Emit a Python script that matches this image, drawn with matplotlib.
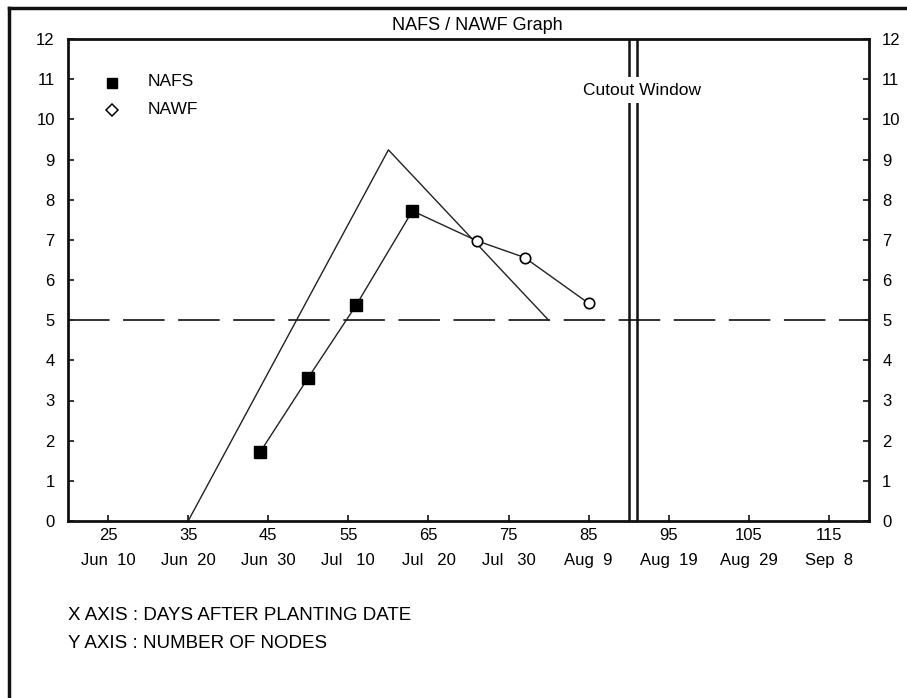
import matplotlib
matplotlib.use("Agg")
import matplotlib.pyplot as plt
from matplotlib.lines import Line2D

# ---- data ----
target_x = [35, 60, 80]
target_y = [0, 9.24, 5.0]

nafs_x = [44, 50, 56, 63]
nafs_y = [1.72, 3.57, 5.38, 7.72]

nawf_x = [71, 77, 85]
nawf_y = [6.98, 6.56, 5.42]

threshold = 5
cutout_x = [90, 91]

day_ticks = [25, 35, 45, 55, 65, 75, 85, 95, 105, 115]
date_labels = ["Jun  10", "Jun  20", "Jun  30", "Jul   10", "Jul   20",
               "Jul   30", "Aug  9", "Aug  19", "Aug  29", "Sep  8"]
y_ticks = list(range(0, 13))

plt.rcParams['font.family'] = ['Liberation Sans', 'DejaVu Sans']

W, H = 907, 698
fig = plt.figure(figsize=(W / 100, H / 100), dpi=100)
fig.patch.set_facecolor('white')

FS_TICK = 12
FS_TEXT = 12.5

# axes position in pixels
L, R, T, B = 68, 869, 39, 521
ax = fig.add_axes([L / W, 1 - B / H, (R - L) / W, (B - T) / H])
ax.set_xlim(20, 120)
ax.set_ylim(0, 12)

for s in ax.spines.values():
    s.set_linewidth(2)
    s.set_color('#111111')

# threshold dashed line
ax.axhline(threshold, color='#222222', lw=1.3, dashes=(23, 7.5))

# target line
ax.plot(target_x, target_y, color='#222222', lw=1)

# combined NAFS/NAWF line
ax.plot(nafs_x + nawf_x, nafs_y + nawf_y, color='#222222', lw=1)
ax.plot(nafs_x, nafs_y, ls='none', marker='s', ms=8.5, mfc='black', mec='black')
ax.plot(nawf_x, nawf_y, ls='none', marker='o', ms=7.5, mfc='white', mec='black', mew=1.2)

# cutout window lines
for cx in cutout_x:
    ax.axvline(cx, color='#111111', lw=1.8)
ax.text(91.6, 10.73, "Cutout Window", ha='center', va='center', fontsize=FS_TEXT,
        bbox=dict(facecolor='white', edgecolor='none', pad=4))

# legend (manual)
ax.plot([25.5], [10.9], ls='none', marker='s', ms=7.5, mfc='black', mec='black')
ax.text(30.0, 10.93, "NAFS", ha='left', va='center', fontsize=FS_TEXT)
ax.plot([25.5], [10.22], ls='none', marker='D', ms=6, mfc='white', mec='black', mew=1.1)
ax.text(30.0, 10.25, "NAWF", ha='left', va='center', fontsize=FS_TEXT)

# ticks
ax.set_xticks(day_ticks)
ax.set_xticklabels([f"{d}\n{lab}" for d, lab in zip(day_ticks, date_labels)],
                   fontsize=FS_TICK, linespacing=1.8)
ax.set_yticks(y_ticks)
ax.set_yticklabels([str(v) for v in y_ticks], fontsize=FS_TICK)
ax.tick_params(axis='both', direction='in', length=4, width=1.2, color='#111111')
ax.tick_params(axis='y', which='both', left=True, right=True, labelleft=True,
               labelright=True, pad=9.5)
ax.tick_params(axis='x', pad=5)

# title
fig.text(477 / W, 1 - 25 / H, "NAFS / NAWF Graph", ha='center', va='center', fontsize=13)

# axis descriptions
fig.text(68 / W, 1 - 615 / H, "X AXIS : DAYS AFTER PLANTING DATE", ha='left', va='center', fontsize=13.5)
fig.text(68 / W, 1 - 643 / H, "Y AXIS : NUMBER OF NODES", ha='left', va='center', fontsize=13.5)

# outer frame (top and left visible)
fig.add_artist(Line2D([9 / W, 1.0], [1 - 8 / H, 1 - 8 / H], transform=fig.transFigure,
                      color='#111111', lw=2.5))
fig.add_artist(Line2D([9 / W, 9 / W], [1 - 8 / H, 0.0], transform=fig.transFigure,
                      color='#111111', lw=2.5))

fig.savefig("out.png", dpi=100, facecolor='white')
